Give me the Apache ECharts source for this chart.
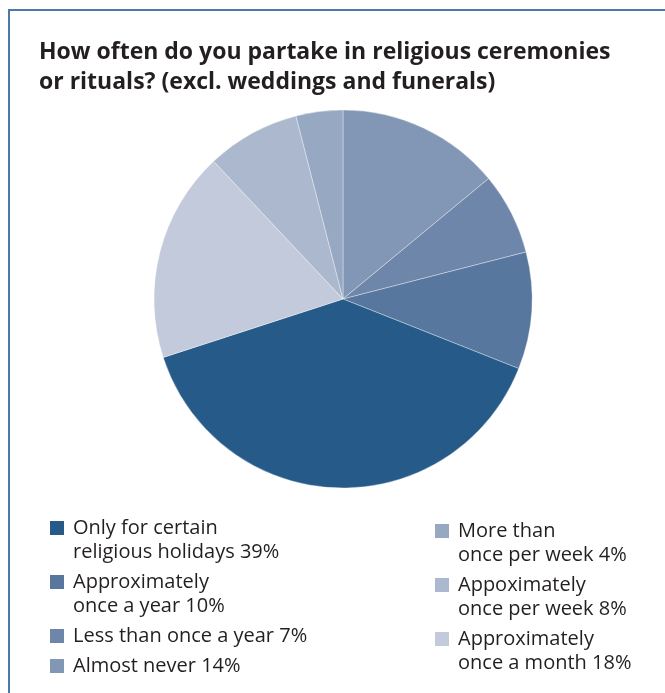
<!DOCTYPE html>
<html>
<head>
<meta charset="utf-8">
<script src="https://cdn.jsdelivr.net/npm/echarts@6/dist/echarts.min.js"></script>
<style>
  html, body { margin: 0; padding: 0; background: #fff; }
  #chart { width: 665px; height: 693px; }
</style>
</head>
<body>
<div id="chart"></div>
<script>
// Slices in clockwise order starting at 12 o'clock
const categories = [
  'Almost never',
  'Less than once a year',
  'Approximately once a year',
  'Only for certain religious holidays',
  'Approximately once a month',
  'Appoximately once per week',
  'More than once per week'
];
const shares = [14, 7, 10, 39, 18, 8, 4];
// Legend wording, with line breaks
const legendLabels = [
  'Almost never',
  'Less than once a year',
  'Approximately\nonce a year',
  'Only for certain\nreligious holidays',
  'Approximately\nonce a month',
  'Appoximately\nonce per week',
  'More than\nonce per week'
];
const colors = ['#8297b5', '#6e86aa', '#57779e', '#265a89', '#c3cadb', '#abb8cd', '#97a8c2'];
const leftColumn = [3, 2, 1, 0];
const rightColumn = [6, 5, 4];

const FONT = '"Open Sans", "Noto Sans", sans-serif';
const TEXT = '#231f20';

const chart = echarts.init(document.getElementById('chart'), null, { renderer: 'canvas' });

// Rich styles: one coloured square per category, plus spacers and text
const rich = {
  t: { fontSize: 20, lineHeight: 24, color: TEXT, fontFamily: FONT },
  g: { width: 9, height: 14 },
  n: { width: 23, height: 14 }
};
categories.forEach((c, i) => {
  rich['s' + i] = { width: 14, height: 14, backgroundColor: colors[i] };
});

function legendText(name) {
  const i = categories.indexOf(name);
  const lines = (legendLabels[i] + ' ' + shares[i] + '%').split('\n');
  return lines.map((ln, k) => (k === 0 ? '{s' + i + '|}{g|}' : '{n|}') + '{t|' + ln + '}').join('\n');
}

function makeLegend(idx, left, top) {
  return {
    orient: 'vertical',
    left: left,
    top: top,
    padding: 0,
    itemGap: 6,
    itemWidth: 0,
    itemHeight: 14,
    icon: 'none',
    selectedMode: false,
    data: idx.map(i => categories[i]),
    formatter: legendText,
    textStyle: { rich: rich, fontSize: 20, lineHeight: 24, color: TEXT, fontFamily: FONT }
  };
}

chart.setOption({
  animation: false,
  color: colors,
  title: {
    text: 'How often do you partake in religious ceremonies\nor rituals? (excl. weddings and funerals)',
    left: 39,
    top: 37,
    padding: 0,
    textStyle: { fontSize: 23, fontWeight: 'bold', lineHeight: 30, color: TEXT, fontFamily: FONT }
  },
  legend: [makeLegend(leftColumn, 45, 516), makeLegend(rightColumn, 430, 519)],
  graphic: [{
    type: 'polyline',
    shape: { points: [[9, 693], [9, 10], [665, 10]] },
    style: { stroke: '#4e78a8', lineWidth: 2, fill: null },
    silent: true
  }],
  series: [{
    type: 'pie',
    center: [343, 299],
    radius: [0, 189],
    startAngle: 90,
    clockwise: true,
    label: { show: false },
    labelLine: { show: false },
    silent: true,
    itemStyle: { borderColor: 'rgba(255,255,255,0.6)', borderWidth: 0.6 },
    data: categories.map((c, i) => ({ name: c, value: shares[i], itemStyle: { color: colors[i] } }))
  }]
});
</script>
</body>
</html>
